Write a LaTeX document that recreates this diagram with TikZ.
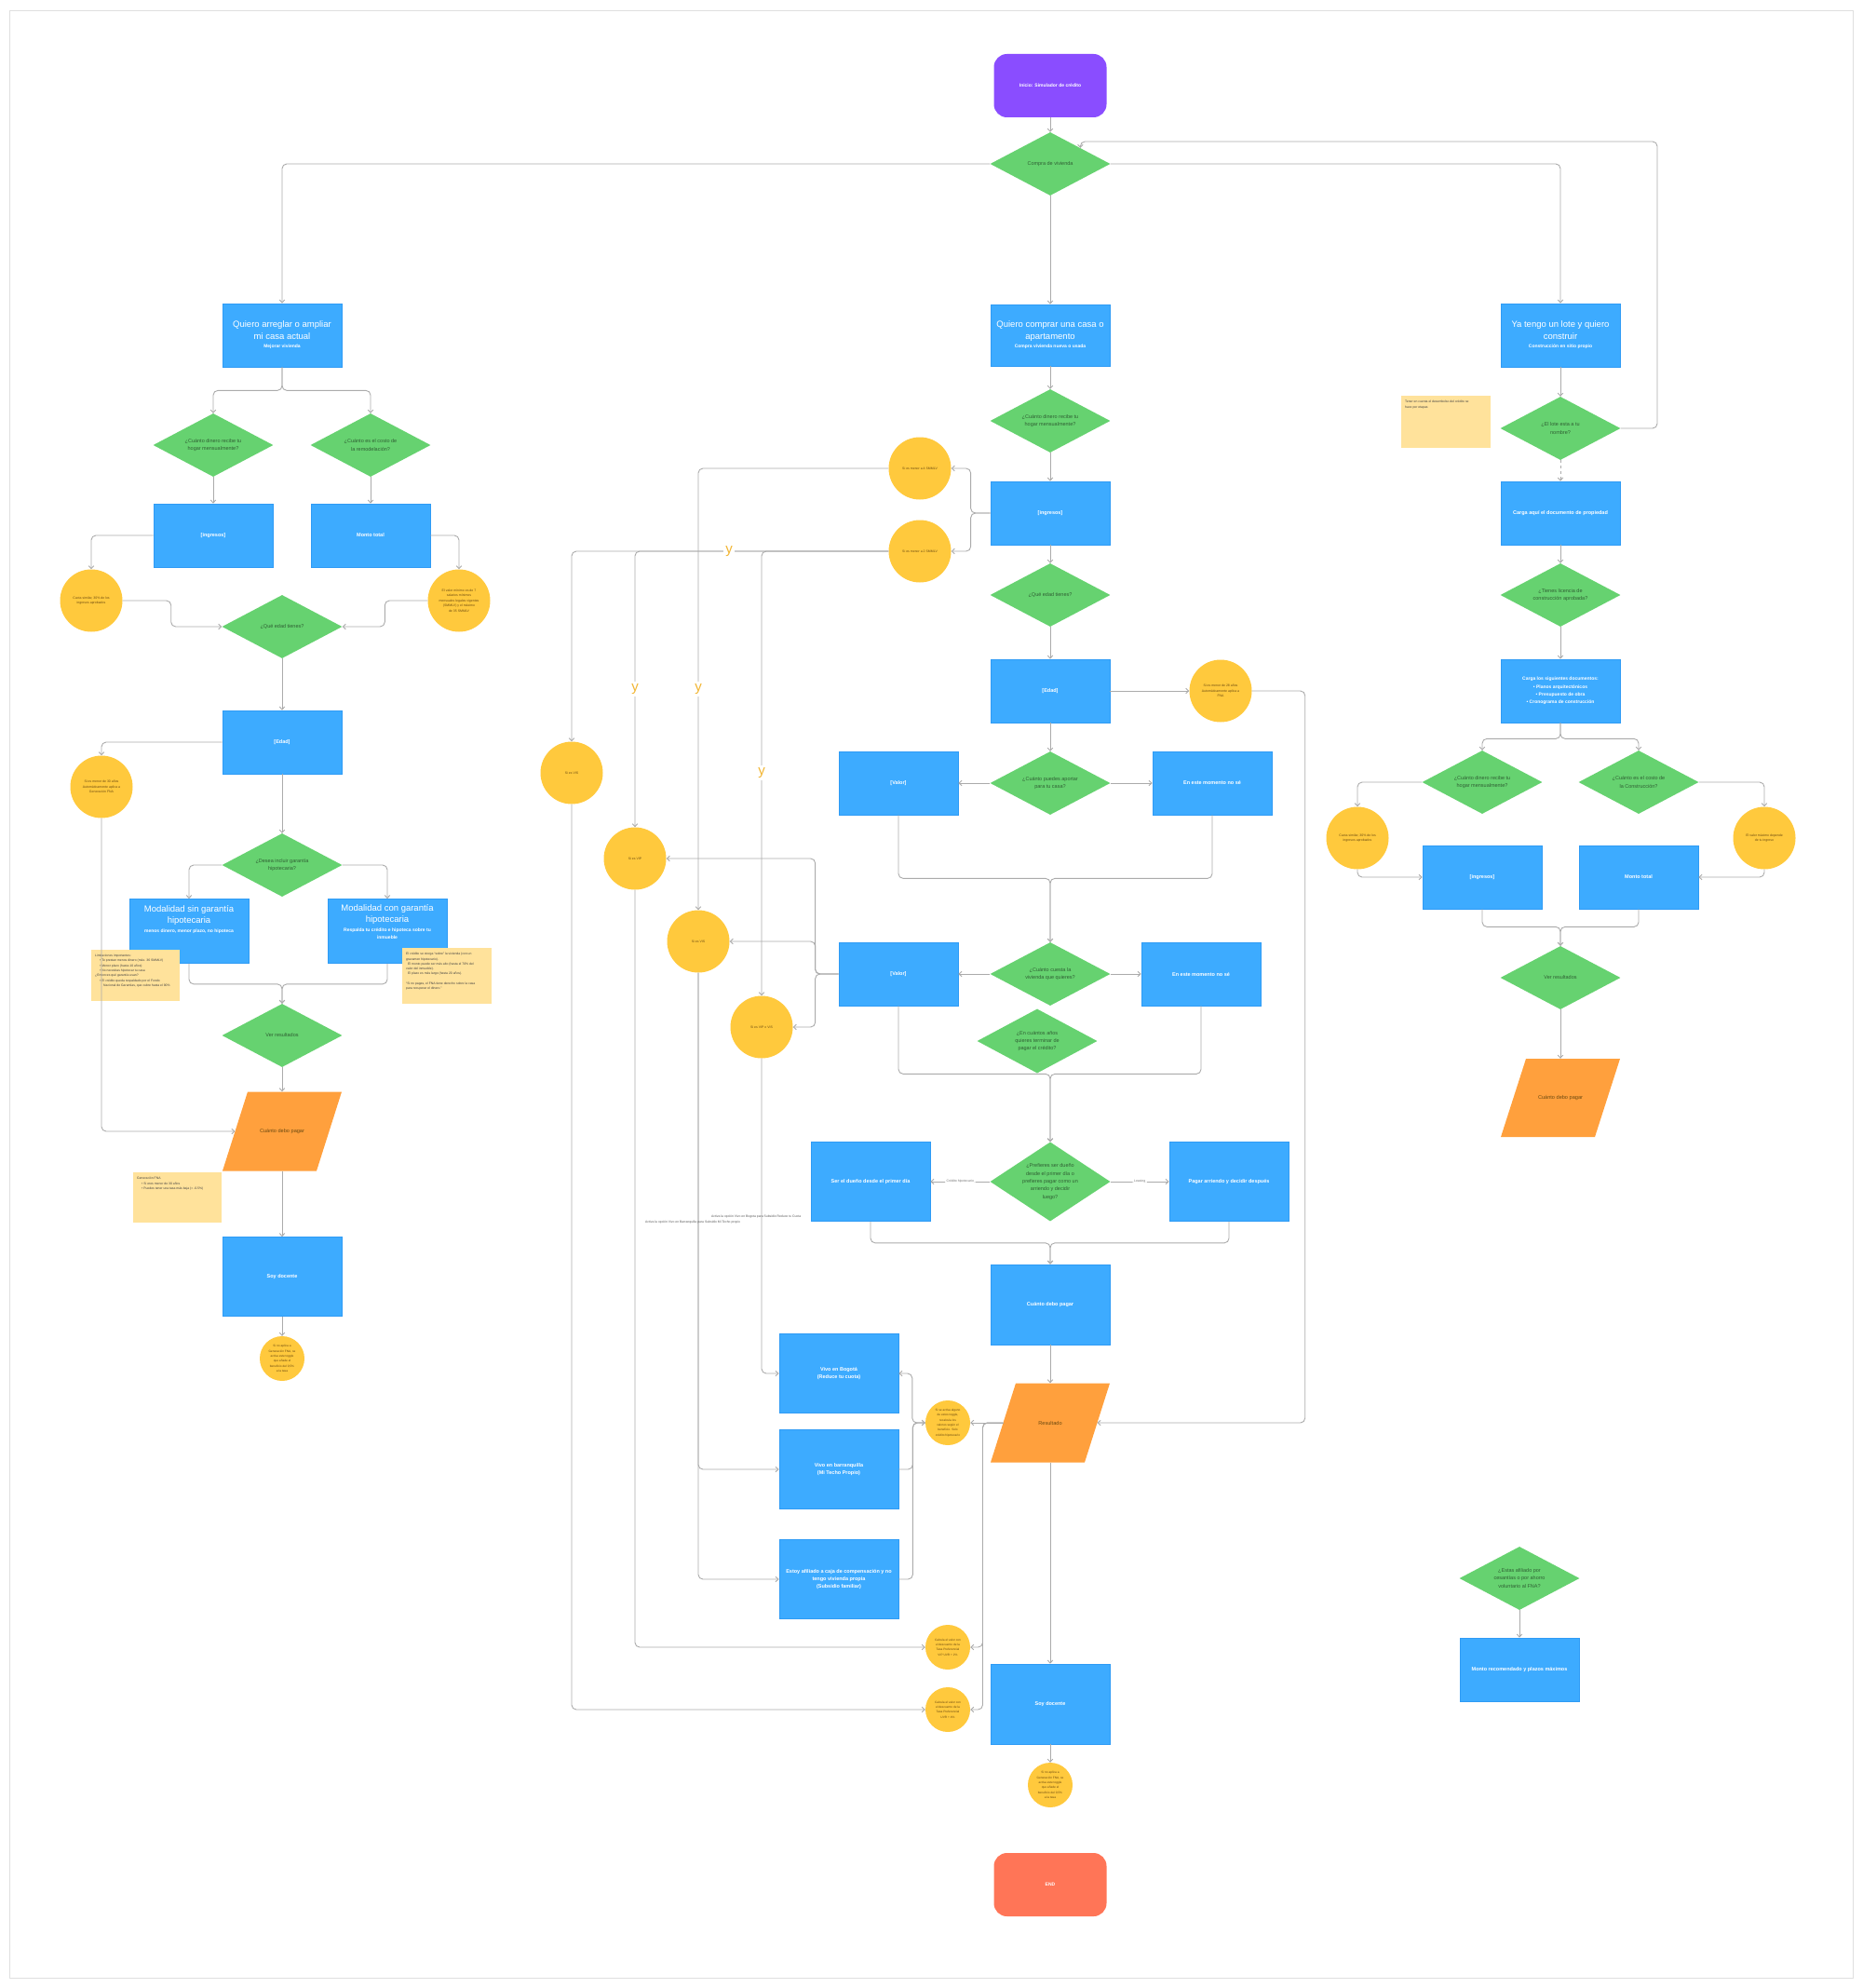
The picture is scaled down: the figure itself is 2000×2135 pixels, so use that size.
\documentclass[tikz,border=0pt]{standalone}
\usepackage{fontspec}
\setmainfont{Liberation Sans}
\usetikzlibrary{shapes.geometric,arrows.meta}
\definecolor{cpurple}{HTML}{8A4DFF}
\definecolor{cgreen}{HTML}{66D270}
\definecolor{cblue}{HTML}{3DABFF}
\definecolor{cblueB}{HTML}{2F9BF5}
\definecolor{cyellow}{HTML}{FFC93D}
\definecolor{corange}{HTML}{FFA03D}
\definecolor{csticky}{HTML}{FFE29B}
\definecolor{cend}{HTML}{FF7557}
\definecolor{cline}{HTML}{ABABAB}
\definecolor{cdgreen}{HTML}{2F5F33}
\definecolor{cbrown}{HTML}{6B4A10}
\definecolor{cyy}{HTML}{F2B531}
\begin{document}
\begin{tikzpicture}[x=1pt,y=-1pt,
  bx/.style={rectangle, fill=cblue, draw=cblueB, line width=0.7pt, minimum width=128pt, minimum height=68pt, inner sep=2pt, text=white, align=center, font=\bfseries\fontsize{5.5}{8.3}\selectfont},
  ttl/.style={bx, font=\fontsize{9.5}{12.5}\selectfont},
  dm/.style={diamond, fill=cgreen, minimum width=129pt, minimum height=68pt, shape aspect=1.9, inner sep=0pt, text=cdgreen, align=center, font=\fontsize{5.5}{8.3}\selectfont},
  cr/.style={circle, fill=cyellow, minimum size=67pt, inner sep=0pt, text=cbrown, align=center, font=\fontsize{3.5}{5.5}\selectfont},
  crs/.style={cr, minimum size=48pt, font=\fontsize{3.2}{5.4}\selectfont},
  pgn/.style={rectangle, minimum width=128pt, minimum height=85pt, inner sep=0pt, text=cbrown, font=\fontsize{5.6}{7}\selectfont},
  pgfill/.style={fill=corange},
  term/.style={rectangle, rounded corners=14pt, minimum width=121pt, minimum height=68pt, text=white, font=\bfseries\fontsize{5}{6}\selectfont},
  stk/.style={rectangle, fill=csticky, anchor=north west, inner sep=0pt},
  stt/.style={anchor=north west, align=left, text=black!75, font=\fontsize{3.4}{5.3}\selectfont, inner sep=0pt},
  conn/.style={draw=cline, line width=0.9pt, rounded corners=5pt, -{Straight Barb[length=3pt,width=5.5pt]}},
  ylab/.style={fill=white, text=cyy, font=\fontsize{15}{15}\selectfont, inner sep=2pt},
  elab/.style={fill=white, text=black!55, font=\fontsize{3.5}{4}\selectfont, inner sep=1.5pt},
  ftxt/.style={text=black!65, font=\fontsize{3.4}{4}\selectfont, inner sep=0pt, anchor=west}
]
\useasboundingbox (0,0) rectangle (2000,2135);
\fill[white] (0,0) rectangle (2000,2135);
\draw[gray!25, line width=0.6pt] (10,11) rectangle (1990,2124);

% parallelogram bodies
\fill[pgfill] (239,1257.5) -- (340,1257.5) -- (367,1172.5) -- (266,1172.5) -- cycle;
\fill[pgfill] (1064,1570.5) -- (1165,1570.5) -- (1192,1485.5) -- (1091,1485.5) -- cycle;
\fill[pgfill] (1612,1221) -- (1713,1221) -- (1740,1137) -- (1639,1137) -- cycle;
\coordinate (lparL) at (252.5,1215);
\coordinate (cresL) at (1077.5,1528);
\coordinate (cresR) at (1178.5,1528);

% ===== top =====
\node[term, fill=cpurple] (start) at (1128,92) {Inicio: Simulador de crédito};
\node[dm] (compra) at (1128,176) {Compra de vivienda};

% ===== left column =====
\node[ttl] (arb) at (303,360) {Quiero arreglar o ampliar\\mi casa actual\\[-3pt]{\bfseries\fontsize{5}{6}\selectfont Mejorar vivienda}};
\node[dm] (ld1) at (229,478) {¿Cuánto dinero recibe tu\\hogar mensualmente?};
\node[dm] (ld2) at (398,478) {¿Cuánto es el costo de\\la remodelación?};
\node[bx] (lb1) at (229,575) {[ingresos]};
\node[bx] (lb2) at (398,575) {Monto total};
\node[cr] (lc1) at (98,645) {Cuota similar, 30\% de los\\ingresos aprobados};
\node[cr] (lc2) at (493,645) {El valor mínimo es de 7\\salarios mínimos\\mensuales legales vigentes\\(SMMLV) y el máximo\\de 35 SMMLV};
\node[dm] (ledad) at (303,673) {¿Qué edad tienes?};
\node[bx] (lbedad) at (303,797) {[Edad]};
\node[cr] (lc3) at (109,845) {Si es menor de 30 años\\Automáticamente aplica a\\Generación FNA};
\node[dm] (lgar) at (303,929) {¿Desea incluir garantía\\hipotecaria?};
\node[ttl, minimum height=69pt] (lsin) at (203,1000) {Modalidad sin garantía\\hipotecaria\\[-3pt]{\bfseries\fontsize{5}{6.5}\selectfont menos dinero, menor plazo, no hipoteca}\\[14pt]};
\node[ttl, minimum height=69pt] (lcon) at (416,1000) {Modalidad con garantía\\hipotecaria\\[-3pt]{\bfseries\fontsize{5}{8}\selectfont Respalda tu crédito e hipoteca sobre tu}\\[-4pt]{\bfseries\fontsize{5}{8}\selectfont inmueble}\\[8pt]};
\node[stk, minimum width=95pt, minimum height=55pt] (lnote1) at (98,1020) {};
\node[stt] (lnote1t) at (102,1025) {Limitaciones importantes:\\
\hspace{5pt}• Te prestan menos dinero (máx. 36 SMMLV)\\
\hspace{5pt}• Menor plazo (hasta 10 años)\\
\hspace{5pt}• No necesitas hipotecar tu casa\\
¿Entonces qué garantía usan?\\
\hspace{5pt}• El crédito queda respaldado por el Fondo\\
\hspace{9pt}Nacional de Garantías, que cubre hasta el 90\%};
\node[stk, minimum width=96pt, minimum height=60pt] (lnote2) at (432,1018) {};
\node[stt] (lnote2t) at (436,1023) {El crédito se otorga “sobre” la vivienda (con un\\
gravamen hipotecario).\\
\hspace{2pt}El monto puede ser más alto (hasta el 70\% del\\
valor del inmueble).\\
\hspace{2pt}El plazo es más largo (hasta 20 años).\\[5.3pt]
“Si no pagas, el FNA tiene derecho sobre la casa\\
para recuperar el dinero.”};
\node[dm] (lver) at (303,1112) {Ver resultados};
\node[pgn] (lpar) at (303,1215) {Cuánto debo pagar};
\node[stk, minimum width=95pt, minimum height=54pt] (lnote3) at (143,1259) {};
\node[stt] (lnote3t) at (147,1264) {Generación FNA\\
\hspace{5pt}• Si eres menor de 30 años\\
\hspace{5pt}• Puedes tener una tasa más baja (≈ -0.5\%)};
\node[bx, minimum height=85pt] (lsoy) at (303,1371) {Soy docente};
\node[crs] (lc4) at (303,1459) {Si no aplica a\\Generación FNA, se\\activa este toggle\\que añade el\\beneficio del 0,5\%\\a la tasa};

% ===== center column =====
\node[ttl, minimum height=66pt] (cmp) at (1128,360) {Quiero comprar una casa o\\apartamento\\[-3pt]{\bfseries\fontsize{5}{6}\selectfont Compra vivienda nueva o usada}};
\node[dm] (cd1) at (1128,452) {¿Cuánto dinero recibe tu\\hogar mensualmente?};
\node[bx] (cbi) at (1128,551) {[ingresos]};
\node[cr] (cc4) at (988,503) {Si es menor a 4 SMMLV};
\node[cr] (cc2) at (988,592) {Si es menor a 2 SMMLV};
\node[dm] (cedad) at (1128,639) {¿Qué edad tienes?};
\node[bx] (cbe) at (1128,742) {[Edad]};
\node[cr] (cc28) at (1311,742) {Si es menor de 28 años\\Automáticamente aplica a\\FNA};
\node[dm] (cap) at (1128,841) {¿Cuánto puedes aportar\\para tu casa?};
\node[bx] (cval1) at (965,841) {[Valor]};
\node[bx] (cns1) at (1302,841) {En este momento no sé};
\node[dm] (ccv) at (1128,1046) {¿Cuánto cuesta la\\vivienda que quieres?};
\node[bx] (cval2) at (965,1046) {[Valor]};
\node[bx] (cns2) at (1290,1046) {En este momento no sé};
\node[dm, minimum height=69pt] (cyears) at (1114,1118) {¿En cuántos años\\quieres terminar de\\pagar el crédito?};
\node[dm, minimum height=85pt, shape aspect=1.5] (cpref) at (1128,1269) {¿Prefieres ser dueño\\desde el primer día o\\prefieres pagar como un\\arriendo y decidir\\luego?};
\node[bx, minimum height=85pt] (cdue) at (935,1269) {Ser el dueño desde el primer día};
\node[bx, minimum height=85pt] (carr) at (1320,1269) {Pagar arriendo y decidir después};
\node[bx, minimum height=86pt] (cpago) at (1128,1401) {Cuánto debo pagar};
\node[pgn] (cres) at (1128,1528) {Resultado};
\node[bx, minimum height=86pt] (csoy) at (1128,1830) {Soy docente};
\node[crs] (cc05) at (1128,1917) {Si no aplica a\\Generación FNA, se\\activa este toggle\\que añade el\\beneficio del 0,5\%\\a la tasa};
\node[term, fill=cend] (cend) at (1128,2024) {END};

\node[cr] (cv1) at (614,830) {Si es VIS};
\node[cr] (cv2) at (682,922) {Si es VIP};
\node[cr] (cv3) at (750,1011) {Si es VIS};
\node[cr] (cv4) at (818,1103) {Si es VIP o VIS};

\node[bx, minimum height=85pt] (cbog) at (901,1475) {Vivo en Bogotá\\(Reduce tu cuota)};
\node[bx, minimum height=85pt] (cbar) at (901,1578) {Vivo en barranquilla\\(Mi Techo Propio)};
\node[bx, minimum height=85pt] (cafi) at (901,1696) {Estoy afiliado a caja de compensación y no\\tengo vivienda propia\\(Subsidio familiar)};
\node[crs] (ctog) at (1018,1528) {Si se activa alguno\\de estos toggle,\\recalcula los\\valores según el\\beneficio. Solo\\crédito hipotecario};
\node[crs] (cuvr2) at (1018,1769) {Calcula el valor con\\el descuento de la\\Tasa Preferencial\\VIP UVR + 2\%};
\node[crs] (cuvr4) at (1018,1836) {Calcula el valor con\\el descuento de la\\Tasa Preferencial\\UVR + 4\%};

% ===== right column =====
\node[ttl] (rlote) at (1676,360) {Ya tengo un lote y quiero\\construir\\[-3pt]{\bfseries\fontsize{5}{6}\selectfont Construcción en sitio propio}};
\node[dm] (rdl) at (1676,460) {¿El lote esta a tu\\nombre?};
\node[stk, minimum width=96pt, minimum height=56pt] (rnote) at (1505,425) {};
\node[stt] (rnotet) at (1509,430) {Tener en cuenta el desembolso del crédito se\\hace por etapas};
\node[bx] (rdoc) at (1676,551) {Carga aquí el documento de propiedad};
\node[dm] (rlic) at (1676,639) {¿Tienes licencia de\\construcción aprobada?};
\node[bx, font=\bfseries\fontsize{5}{8.3}\selectfont] (rdocs) at (1676,742) {Carga los siguientes documentos:\\• Planos arquitectónicos\\• Presupuesto de obra\\• Cronograma de construcción};
\node[dm] (rd1) at (1592,840) {¿Cuánto dinero recibe tu\\hogar mensualmente?};
\node[dm] (rd2) at (1760,840) {¿Cuánto es el costo de\\la Construcción?};
\node[bx] (rb1) at (1592,942) {[ingresos]};
\node[bx] (rb2) at (1760,942) {Monto total};
\node[cr] (rc1) at (1458,900) {Cuota similar, 30\% de los\\ingresos aprobados};
\node[cr] (rc2) at (1895,900) {El valor máximo depende\\de tu ingreso};
\node[dm] (rver) at (1676,1050) {Ver resultados};
\node[pgn, minimum height=84pt] (rpar) at (1676,1179) {Cuánto debo pagar};
\node[dm] (rfna) at (1632,1695) {¿Estas afiliado por\\cesantías o por ahorro\\voluntario al FNA?};
\node[bx] (rmon) at (1632,1793) {Monto recomendado y plazos máximos};

% ===== connectors: top =====
\draw[conn] (start) -- (compra);
\draw[conn] (compra.west) -| (arb.north);
\draw[conn] (compra.south) -- (cmp.north);
\draw[conn] (compra.east) -| (rlote.north);
\draw[conn] (rdl.east) -- (1780,460) -- (1780,152) -| (compra.north east);

% ===== connectors: left =====
\draw[conn] (arb.south) -- ++(0,25) -| (ld1.north);
\draw[conn] (arb.south) -- ++(0,25) -| (ld2.north);
\draw[conn] (ld1) -- (lb1);
\draw[conn] (ld2) -- (lb2);
\draw[conn] (lb1.west) -| (lc1.north);
\draw[conn] (lb2.east) -| (lc2.north);
\draw[conn] (lc1.east) -- ++(52,0) |- (ledad.west);
\draw[conn] (lc2.west) -- ++(-46,0) |- (ledad.east);
\draw[conn] (ledad) -- (lbedad);
\draw[conn] (lbedad.west) -| (lc3.north);
\draw[conn] (lbedad) -- (lgar);
\draw[conn] (lgar.west) -| (lsin.north);
\draw[conn] (lgar.east) -| (lcon.north);
\draw[conn] (lsin.south) -- ++(0,22) -| (lver.north);
\draw[conn] (lcon.south) -- ++(0,22) -| (lver.north);
\draw[conn] (lver) -- (lpar);
\draw[conn] (lc3.south) |- (lparL);
\draw[conn] (lpar) -- (lsoy);
\draw[conn] (lsoy) -- (lc4);

% ===== connectors: center =====
\draw[conn] (cmp) -- (cd1);
\draw[conn] (cd1) -- (cbi);
\draw[conn] (cbi.west) -- ++(-21,0) |- (cc4.east);
\draw[conn] (cbi.west) -- ++(-21,0) |- (cc2.east);
\draw[conn] (cbi) -- (cedad);
\draw[conn] (cedad) -- (cbe);
\draw[conn] (cbe) -- (cc28);
\draw[conn] (cbe) -- (cap);
\draw[conn] (cap.west) -- (cval1.east);
\draw[conn] (cap.east) -- (cns1.west);
\draw[conn] (cval1.south) -- ++(0,68) -| (ccv.north);
\draw[conn] (cns1.south) -- ++(0,68) -| (ccv.north);
\draw[conn] (ccv.west) -- (cval2.east);
\draw[conn] (ccv.east) -- (cns2.west);
\draw[conn] (cval2.south) -- ++(0,73) -| (cpref.north);
\draw[conn] (cns2.south) -- ++(0,73) -| (cpref.north);
\draw[conn] (cpref.west) -- node[elab]{Crédito hipotecario} (cdue.east);
\draw[conn] (cpref.east) -- node[elab]{Leasing} (carr.west);
\draw[conn] (cdue.south) -- ++(0,23) -| (cpago.north);
\draw[conn] (carr.south) -- ++(0,23) -| (cpago.north);
\draw[conn] (cpago) -- (cres);
\draw[conn] (cc28.east) -- ++(57,0) |- (cresR);
\draw[conn] (cres) -- (csoy);
\draw[conn] (csoy) -- (cc05);

\draw[conn] (cc4.west) -| (cv3.north);
\draw[conn] (cc2.west) -| (cv4.north);
\draw[conn] (cc2.west) -| (cv2.north);
\draw[conn] (cc2.west) -| (cv1.north);
\draw[conn] (cval2.west) -- ++(-25,0) |- (cv2.east);
\draw[conn] (cval2.west) -- ++(-25,0) |- (cv3.east);
\draw[conn] (cval2.west) -- ++(-25,0) |- (cv4.east);
\draw[conn] (cv1.south) |- (cuvr4.west);
\draw[conn] (cv2.south) |- (cuvr2.west);
\draw[conn] (cv3.south) |- (cbar.west);
\draw[conn] (cv3.south) |- (cafi.west);
\draw[conn] (cv4.south) |- (cbog.west);

\draw[conn] (cresL) -- (ctog.east);
\draw[conn] (cresL) -- ++(-22,0) |- (cuvr2.east);
\draw[conn] (cresL) -- ++(-22,0) |- (cuvr4.east);
\draw[conn] (cbar.east) -- ++(15,0) |- (ctog.west);
\draw[conn] (cafi.east) -- ++(15,0) |- (ctog.west);
\draw[conn] (ctog.west) -- ++(-14,0) |- (cbog.east);

\node[ylab] (y1) at (783,592) {y};
\node[ylab] (y2) at (682,740) {y};
\node[ylab] (y3) at (750,740) {y};
\node[ylab] (y4) at (818,830) {y};
\node[ftxt] (act1) at (764,1307) {Activa la opción Vivo en Bogota para Subsidio Reduce tu Cuota};
\node[ftxt] (act2) at (693,1313) {Activa la opción Vivo en Barranquilla para Subsidio Mi Techo propio};

% ===== connectors: right =====
\draw[conn] (rlote) -- (rdl);
\draw[conn, dashed] (rdl) -- (rdoc);
\draw[conn] (rdoc) -- (rlic);
\draw[conn] (rlic) -- (rdocs);
\draw[conn] (rdocs.south) -- ++(0,17) -| (rd1.north);
\draw[conn] (rdocs.south) -- ++(0,17) -| (rd2.north);
\draw[conn] (rd1.west) -| (rc1.north);
\draw[conn] (rd2.east) -| (rc2.north);
\draw[conn] (rc1.south) |- (rb1.west);
\draw[conn] (rc2.south) |- (rb2.east);
\draw[conn] (rb1.south) -- ++(0,19) -| (rver.north);
\draw[conn] (rb2.south) -- ++(0,19) -| (rver.north);
\draw[conn] (rver) -- (rpar);
\draw[conn] (rfna) -- (rmon);
\end{tikzpicture}
\end{document}
